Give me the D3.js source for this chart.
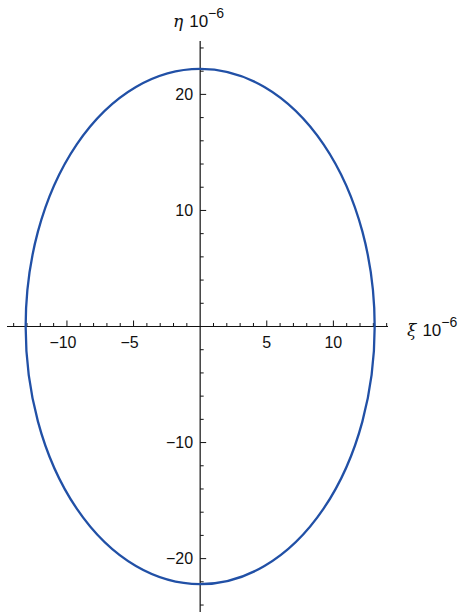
<!DOCTYPE html>
<html>
<head>
<meta charset="utf-8">
<script src="https://cdn.jsdelivr.net/npm/d3@7"></script>
<style>
  html, body { margin: 0; padding: 0; background: #fff; }
  svg { display: block; }
  text { font-family: "Liberation Sans", Arial, sans-serif; fill: #111; }
</style>
</head>
<body>
<svg id="chart" width="462" height="612"></svg>
<script>
// Orbit ellipse (units of 1e-6): semi-axes along ξ and η
const semiAxisXi = 13.1;
const semiAxisEta = 22.2;

// Axis domains and tick values
const xiDomain = [-14.5, 14.1];
const etaDomain = [-24.6, 24.6];
const xiMajorTicks = [-10, -5, 5, 10];
const xiMinorTicks = d3.range(-14, 15, 1);
const etaMajorTicks = [-20, -10, 10, 20];
const etaMinorTicks = d3.range(-24, 25, 2);
const xiLabel = "ξ";
const etaLabel = "η";
const scaleLabel = "10";
const scaleExp = "−6";

const svg = d3.select("#chart");

const x = d3.scaleLinear().domain(xiDomain).range([7, 388]);
const y = d3.scaleLinear().domain(etaDomain).range([612, 41]);

const fmt = d => (d < 0 ? "\u2212" + Math.abs(d) : String(d));

// ξ axis through origin, ticks pointing up
const gx = svg.append("g").attr("transform", `translate(0,${y(0)})`);
gx.append("line").attr("x1", x.range()[0]).attr("x2", x.range()[1])
  .attr("stroke", "#111").attr("stroke-width", 1.2);
gx.selectAll("line.minor").data(xiMinorTicks.filter(d => d !== 0 && !xiMajorTicks.includes(d)))
  .join("line").attr("class", "minor")
  .attr("x1", d => x(d)).attr("x2", d => x(d)).attr("y1", 0).attr("y2", -3.5)
  .attr("stroke", "#111").attr("stroke-width", 1);
gx.selectAll("line.major").data(xiMajorTicks)
  .join("line").attr("class", "major")
  .attr("x1", d => x(d)).attr("x2", d => x(d)).attr("y1", 0).attr("y2", -6)
  .attr("stroke", "#111").attr("stroke-width", 1);
gx.selectAll("text").data(xiMajorTicks).join("text")
  .attr("x", d => x(d) - (d < 0 ? 4 : 0)).attr("y", 21)
  .attr("text-anchor", "middle").attr("font-size", 16)
  .text(fmt);

// η axis through origin, ticks pointing right
const gy = svg.append("g").attr("transform", `translate(${x(0)},0)`);
gy.append("line").attr("y1", y.range()[0]).attr("y2", y.range()[1])
  .attr("stroke", "#111").attr("stroke-width", 1.2);
gy.selectAll("line.minor").data(etaMinorTicks.filter(d => d !== 0 && !etaMajorTicks.includes(d)))
  .join("line").attr("class", "minor")
  .attr("y1", d => y(d)).attr("y2", d => y(d)).attr("x1", 0).attr("x2", 3.5)
  .attr("stroke", "#111").attr("stroke-width", 1);
gy.selectAll("line.major").data(etaMajorTicks)
  .join("line").attr("class", "major")
  .attr("y1", d => y(d)).attr("y2", d => y(d)).attr("x1", 0).attr("x2", 6)
  .attr("stroke", "#111").attr("stroke-width", 1);
gy.selectAll("text").data(etaMajorTicks).join("text")
  .attr("x", -7).attr("y", d => y(d)).attr("dy", "0.36em")
  .attr("text-anchor", "end").attr("font-size", 16)
  .text(fmt);

// Orbit
svg.append("ellipse")
  .attr("cx", x(0)).attr("cy", y(0))
  .attr("rx", x(semiAxisXi) - x(0))
  .attr("ry", y(0) - y(semiAxisEta))
  .attr("fill", "none").attr("stroke", "#2150a6").attr("stroke-width", 2.3);

// Axis labels with scale factor
function axisLabel(px, py, sym) {
  const t = svg.append("text").attr("x", px).attr("y", py).attr("font-size", 17);
  t.append("tspan").attr("font-style", "italic").attr("font-family", "'DejaVu Serif', serif").text(sym);
  t.append("tspan").attr("dx", 6).text(scaleLabel);
  t.append("tspan").attr("dy", -9).attr("font-size", 14).text(scaleExp);
}
axisLabel(173, 27, etaLabel);
axisLabel(407, 336, xiLabel);
</script>
</body>
</html>
